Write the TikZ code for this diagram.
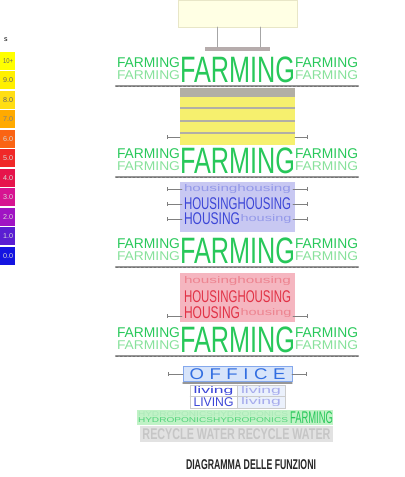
\documentclass[tikz,border=0pt]{standalone}
\usepackage{fontspec}
\setmainfont{Liberation Sans}
\usepackage{graphicx}
\usepackage{tikz}
\usetikzlibrary{arrows.meta}
\usepackage{xcolor}

\newlength\pxu
\setlength\pxu{0.025cm}
\newcommand{\fittext}[3]{\resizebox*{#1\pxu}{#2\pxu}{#3}}

\definecolor{farmgreen}{RGB}{40,200,90}
\definecolor{farmpale}{RGB}{135,225,155}
\definecolor{hubyellow}{RGB}{255,255,228}
\definecolor{stripeyellow}{RGB}{246,240,110}
\definecolor{stripegray}{RGB}{178,175,165}
\definecolor{houseblue}{RGB}{60,70,215}
\definecolor{houseback}{RGB}{200,200,242}
\definecolor{housered}{RGB}{225,50,70}
\definecolor{redback}{RGB}{245,182,192}
\definecolor{officeblue}{RGB}{50,110,225}
\definecolor{officeback}{RGB}{215,228,250}
\definecolor{hydroback}{RGB}{192,242,198}
\definecolor{waterback}{RGB}{226,226,226}
\definecolor{linegray}{RGB}{150,150,150}
\definecolor{lg0}{RGB}{255,255,0}
\definecolor{lg1}{RGB}{255,240,0}
\definecolor{lg2}{RGB}{255,222,20}
\definecolor{lg3}{RGB}{255,170,0}
\definecolor{lg4}{RGB}{250,100,20}
\definecolor{lg5}{RGB}{240,40,40}
\definecolor{lg6}{RGB}{230,20,75}
\definecolor{lg7}{RGB}{215,20,145}
\definecolor{lg8}{RGB}{160,20,195}
\definecolor{lg9}{RGB}{90,30,210}
\definecolor{lg10}{RGB}{20,20,225}

\begin{document}
\begin{tikzpicture}[x=0.025cm,y=-0.025cm,inner sep=0pt,outer sep=0pt,line cap=round,
  rowline/.style={linegray,line width=1.6pt},
  rowdash/.style={black!55,line width=0.4pt,dash pattern=on 1.5pt off 1.5pt},
  stubl/.style={gray,line width=0.5pt,{Bar[width=3pt]}-},
  stubr/.style={gray,line width=0.5pt,-{Bar[width=3pt]}},
  conn/.style={gray!70,line width=0.6pt}]
\useasboundingbox (0,0) rectangle (405,477);

% legend
\node[font=\tiny] (legtitle) at (6,40) {s};
\foreach \c/\t/\tc [count=\i from 0] in {lg0/10+/black!60,lg1/9.0/black!60,lg2/8.0/black!60,
  lg3/7.0/black!50,lg4/6.0/white!85!black,lg5/5.0/white!85!black,lg6/4.0/white!85!black,
  lg7/3.0/white!85!black,lg8/2.0/white!85!black,lg9/1.0/white!85!black,lg10/0.0/white!85!black}{
  \fill[\c] (0,{52+19.5*\i}) rectangle (15,{70+19.5*\i});
  \node[text=\tc] (leg\i) at (8,{61+19.5*\i}) {\fittext{10}{5}{\t}};
}

% top box and link
\node[fill=hubyellow,draw=yellow!40!gray!35,minimum width=119*\pxu,minimum height=27*\pxu] (hub) at (237.5,13.5) {};
\node[fill=black!25!red!8!gray!60,minimum width=65*\pxu,minimum height=4*\pxu] (bar) at (237.5,49) {};
\draw[conn] ([xshift=-20.5*\pxu]hub.south) -- ([xshift=-20.5*\pxu]bar.north);
\draw[conn] ([xshift=22.5*\pxu]hub.south) -- ([xshift=22.5*\pxu]bar.north);

% farming rows
\foreach \y [count=\i] in {70,161,251,340}{
  \node[text=farmgreen] (farm\i) at (237.5,\y) {\fittext{115}{26}{FARMING}};
  \node[text=farmgreen] (farmlu\i) at (148.5,{\y-7}) {\fittext{63}{10}{FARMING}};
  \node[text=farmpale] (farmll\i) at (148.5,{\y+5}) {\fittext{63}{9}{FARMING}};
  \node[text=farmgreen] (farmru\i) at (326.5,{\y-7}) {\fittext{63}{10}{FARMING}};
  \node[text=farmpale] (farmrl\i) at (326.5,{\y+5}) {\fittext{63}{9}{FARMING}};
  \draw[rowline] (116,{\y+16}) -- (358,{\y+16});
  \draw[rowdash] (116,{\y+16}) -- (358,{\y+16});
}

% yellow block
\fill[stripeyellow] (180,88) rectangle (295,145);
\fill[stripegray] (180,88) rectangle (295,97);
\foreach \s in {107,120,132}
  \fill[stripegray] (180,\s) rectangle (295,{\s+2});
\draw[stubl] (167,137) -- (180,137);
\draw[stubr] (295,137) -- (308,137);

% housing blue
\fill[houseback] (180,182) rectangle (295,232);
\node[text=houseblue!55] (hba) at (237.5,189) {\fittext{107}{9}{housinghousing}};
\node[text=houseblue] (hbb) at (237.5,204) {\fittext{107}{12}{HOUSINGHOUSING}};
\node[text=houseblue] (hbc) at (212,219) {\fittext{56}{12}{HOUSING}};
\node[text=houseblue!55] (hbd) at (266,219) {\fittext{51}{9}{housing}};
\foreach \s in {189,204,219}{
  \draw[stubl] (167,\s) -- (182,\s);
  \draw[stubr] (293,\s) -- (308,\s);
}

% housing red
\fill[redback] (180,273) rectangle (295,322);
\node[text=housered!60] (hra) at (237.5,281) {\fittext{107}{9}{housinghousing}};
\node[text=housered] (hrb) at (237.5,297) {\fittext{107}{12}{HOUSINGHOUSING}};
\node[text=housered] (hrc) at (212,313) {\fittext{56}{12}{HOUSING}};
\node[text=housered!60] (hrd) at (266,313) {\fittext{51}{9}{housing}};
\draw[stubl] (167,316) -- (182,316);
\draw[stubr] (293,316) -- (308,316);

% office
\node[fill=officeback,draw=officeblue!60,text=officeblue,minimum width=109*\pxu,minimum height=15*\pxu]
  (office) at (237.5,374) {\fittext{96}{11}{O\kern3pt F\kern3pt F\kern3pt I\kern3pt C\kern3pt E}};
\draw[stubl] (168,374) -- (183,374);
\draw[stubr] (292,374) -- (307,374);
\draw[linegray,line width=1pt] (183,383) -- (292,383);

% living
\fill[officeback!50] (237,385) rectangle (285,408);
\draw[gray!40,line width=0.3pt] (190,385) rectangle (285,408) (190,396.5) -- (285,396.5) (237,385) -- (237,408);
\node[text=houseblue] (liva) at (213.5,391) {\fittext{40}{9}{living}};
\node[text=houseblue!45] (livb) at (261,391) {\fittext{40}{9}{living}};
\node[text=houseblue] (livc) at (213.5,402) {\fittext{40}{9}{LIVING}};
\node[text=houseblue!45] (livd) at (261,402) {\fittext{40}{9}{living}};

% hydroponics and water
\fill[hydroback] (137,410) rectangle (333,425);
\node[text=farmpale!70!white] (hyda) at (213,414) {\fittext{150}{5}{HYDROPONICSHYDROPONICS}};
\node[text=farmgreen!80] (hydb) at (213,420.5) {\fittext{150}{5}{HYDROPONICSHYDROPONICS}};
\node[text=farmgreen] (hydf) at (311.5,417.5) {\fittext{43}{12}{FARMING}};
\fill[waterback] (140,426) rectangle (333,442);
\node[text=gray!45] (water) at (236.5,434) {\fittext{188}{11}{\bfseries RECYCLE WATER RECYCLE WATER}};

\node[text=black!85] (title) at (251,465) {\fittext{130}{10}{\bfseries DIAGRAMMA DELLE FUNZIONI}};
\end{tikzpicture}
\end{document}
